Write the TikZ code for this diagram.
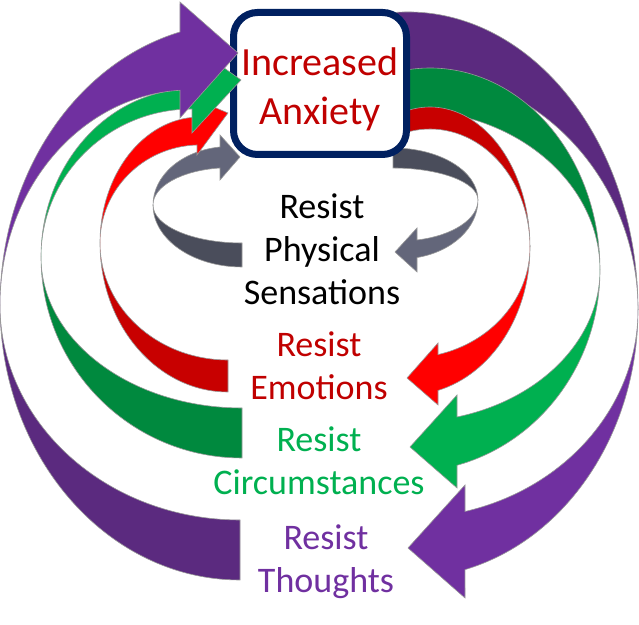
\documentclass[tikz,border=0pt]{standalone}
\usepackage{fontspec}
\setmainfont{Carlito}

\definecolor{purplelight}{HTML}{7030A0}
\definecolor{purpledark}{HTML}{5B2A7F}
\definecolor{greenlight}{HTML}{00B050}
\definecolor{greendark}{HTML}{00893E}
\definecolor{redlight}{HTML}{FF0000}
\definecolor{reddark}{HTML}{C80000}
\definecolor{graylight}{HTML}{63667A}
\definecolor{graydark}{HTML}{4A4D5B}
\definecolor{boxnavy}{HTML}{002060}
\definecolor{textred}{HTML}{C00000}

\begin{document}
\begin{tikzpicture}[x=0.5pt, y=0.5pt,
  ribbon/.style={draw=black!40, line width=0.3pt},
  anxbox/.style={draw=boxnavy, line width=3.5pt, rounded corners=12pt, fill=white, minimum width=86.5pt, minimum height=71pt, inner sep=0pt, align=center, text=textred, font=\fontsize{20}{24.5}\selectfont},
  lbl/.style={anchor=north, inner sep=0pt, align=center, font=\fontsize{18}{21.5}\selectfont}
]
\useasboundingbox (0,0) rectangle (639,625);

% Back halves (right side)
\path[ribbon, fill=purpledark] (368.1,608.5) arc[start angle=100, end angle=0, x radius=230, y radius=298] arc[start angle=0, end angle=100, x radius=230, y radius=240] -- cycle;
\path[ribbon, fill=purplelight] (638,315) arc[start angle=0, end angle=-75.65, x radius=230, y radius=268] -- (465,27) -- (408,77) -- (465,140) -- (465,113.5) arc[start angle=-75.65, end angle=0, x radius=230, y radius=208] -- cycle;

\path[ribbon, fill=greendark] (399.9,553.8) arc[start angle=100.2, end angle=0, x radius=170, y radius=202] arc[start angle=0, end angle=92.4, x radius=192, y radius=160] -- cycle;
\path[ribbon, fill=greenlight] (600,355) arc[start angle=0, end angle=-75.21, x radius=192, y radius=202] -- (457,137) -- (410,178) -- (457,230) -- (457,208) arc[start angle=-75.21, end angle=0, x radius=192, y radius=152] -- cycle;

\path[ribbon, fill=reddark] (399.9,511.5) arc[start angle=107.5, end angle=0, x radius=100, y radius=140] arc[start angle=0, end angle=107.5, x radius=100, y radius=118] -- cycle;
\path[ribbon, fill=redlight] (530,378) arc[start angle=0, end angle=-75.76, x radius=122, y radius=148] -- (438,220) -- (407,247) -- (438,282) -- (438,270.4) arc[start angle=-75.76, end angle=0, x radius=122, y radius=111] -- cycle;

\path[ribbon, fill=graydark] (393,477) arc[start angle=90, end angle=0, x radius=85, y radius=52] arc[start angle=0, end angle=90, x radius=85, y radius=32] -- cycle;
\path[ribbon, fill=graylight] (478,425) arc[start angle=0, end angle=-77.41, x radius=78, y radius=59] -- (417,353) -- (395,373) -- (417,397) -- (417,385) arc[start angle=-77.41, end angle=0, x radius=78, y radius=41] -- cycle;

% Box
\node[anxbox] (anx) at (320,541.5) {\rule{0pt}{19.5pt}Increased\\Anxiety};

% Front halves (left side)
\path[ribbon, fill=graydark] (242,358) arc[start angle=270, end angle=180, x radius=89, y radius=62] arc[start angle=180, end angle=270, x radius=89, y radius=38] -- cycle;
\path[ribbon, fill=graylight] (153,420) arc[start angle=180, end angle=97.46, x radius=77, y radius=58.5] -- (220,490) -- (240,468) -- (220,445) -- (220,457) arc[start angle=97.46, end angle=180, x radius=77, y radius=37.3] -- cycle;

\path[ribbon, fill=reddark] (228,233) arc[start angle=270, end angle=180, x radius=128, y radius=149] arc[start angle=180, end angle=270, x radius=128, y radius=117] -- cycle;
\path[ribbon, fill=redlight] (100,382) arc[start angle=180, end angle=91.72, x radius=100, y radius=126] -- (197,525) -- (228,512) -- (197,470) -- (197,480) arc[start angle=91.72, end angle=180, x radius=100, y radius=98] -- cycle;

\path[ribbon, fill=greendark] (242,167) arc[start angle=270, end angle=180, x radius=201, y radius=201] arc[start angle=180, end angle=270, x radius=201, y radius=151] -- cycle;
\path[ribbon, fill=greenlight] (41,368) arc[start angle=180, end angle=90, x radius=151, y radius=168] -- (192,580) -- (241,545) -- (192,492) -- (192,516) arc[start angle=90, end angle=180, x radius=151, y radius=148] -- cycle;

\path[ribbon, fill=purpledark] (240,45) arc[start angle=270, end angle=180, x radius=240, y radius=275] arc[start angle=180, end angle=270, x radius=240, y radius=215] -- cycle;
\path[ribbon, fill=purplelight] (0,320) arc[start angle=180, end angle=104.48, x radius=240, y radius=282] -- (180,623) -- (238,572) -- (180,507) -- (180,534.7) arc[start angle=93.02, end angle=180, x radius=190, y radius=215] -- cycle;

% Labels
\node[lbl] (phys) at (322,432) {Resist\\Physical\\Sensations};
\node[lbl, text=textred] (emo) at (319,294) {Resist\\Emotions};
\node[lbl, text=greenlight] (circ) at (319,199) {Resist\\Circumstances};
\node[lbl, text=purplelight] (thou) at (326,101) {Resist\\Thoughts};

\end{tikzpicture}
\end{document}
